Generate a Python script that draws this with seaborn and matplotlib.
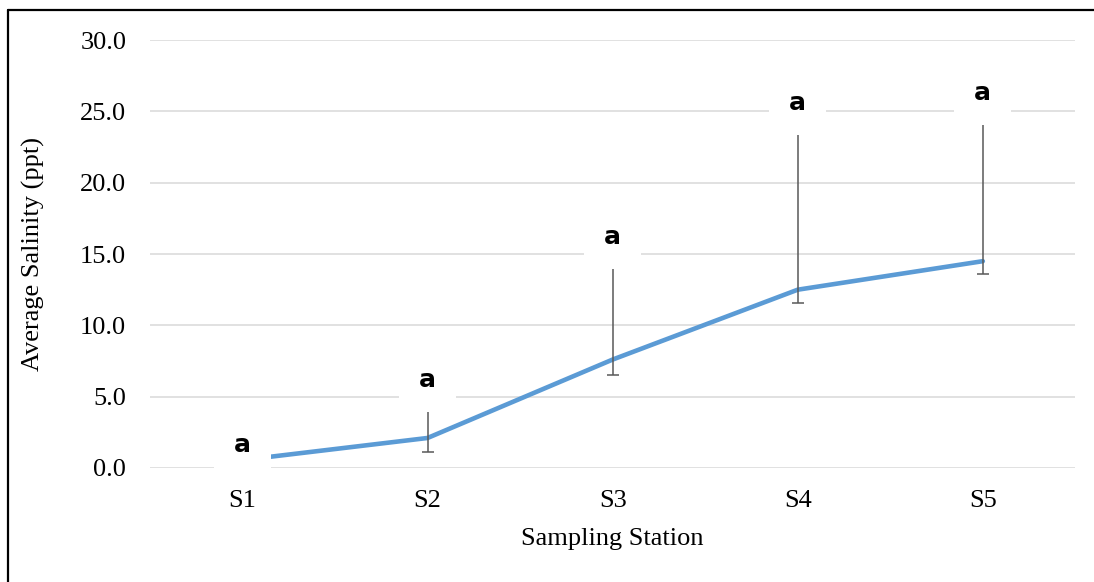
import numpy as np
import pandas as pd
import seaborn as sns
import matplotlib.pyplot as plt
from matplotlib.lines import Line2D

stations = ['S1', 'S2', 'S3', 'S4', 'S5']
salinity = [0.55, 2.1, 7.6, 12.5, 14.5]
err_low = [0.4, 1.0, 1.05, 0.9, 0.9]
err_high = [0.5, 2.4, 6.7, 11.2, 10.0]
letters = ['a', 'a', 'a', 'a', 'a']
letter_y = [1.6, 6.2, 16.2, 25.6, 26.3]

df = pd.DataFrame({'station': stations, 'salinity': salinity})

sns.set_style('white')
plt.rcParams['font.family'] = ['Liberation Serif', 'DejaVu Serif']
plt.rcParams['text.color'] = 'black'
plt.rcParams['axes.labelcolor'] = 'black'
plt.rcParams['xtick.color'] = 'black'
plt.rcParams['ytick.color'] = 'black'

fig = plt.figure(figsize=(10.94, 5.82), dpi=100)
ax = fig.add_axes([0.137, 0.196, 0.846, 0.735])

sns.lineplot(data=df, x='station', y='salinity', color='#5B9BD5',
             linewidth=3.3, ax=ax, zorder=3)
ax.errorbar(np.arange(len(stations)), salinity, yerr=[err_low, err_high],
            fmt='none', ecolor='#595959', elinewidth=1.1, capsize=4.3,
            capthick=1.1, zorder=4)

for i, (t, y) in enumerate(zip(letters, letter_y)):
    ax.text(i, y, t, ha='center', va='center', fontsize=18, fontweight='bold',
            family=['DejaVu Sans'], color='black', zorder=5,
            bbox=dict(boxstyle='square,pad=0.8', fc='white', ec='none'))

ax.set_xlim(-0.5, 4.5)
ax.set_ylim(0, 30)
ax.set_yticks(np.arange(0, 31, 5))
ax.set_yticklabels([f'{v:.1f}' for v in np.arange(0, 31, 5)])
ax.yaxis.grid(True, color='#d9d9d9', linewidth=1.1)
ax.set_axisbelow(True)
for s in ax.spines.values():
    s.set_visible(False)
ax.tick_params(axis='y', length=0, pad=17, labelsize=19)
ax.tick_params(axis='x', length=0, pad=16, labelsize=19)

ax.set_xlabel('Sampling Station', fontsize=19)
ax.set_ylabel('Average Salinity (ppt)', fontsize=19)
ax.xaxis.set_label_coords(0.5, -0.14)
ax.yaxis.set_label_coords(-0.113, 0.5)

# frame lines on the left and top of the figure
fig.add_artist(Line2D([8 / 1094, 8 / 1094], [0, 1 - 10 / 582],
                      color='black', linewidth=1.6, transform=fig.transFigure))
fig.add_artist(Line2D([8 / 1094, 1], [1 - 10 / 582, 1 - 10 / 582],
                      color='black', linewidth=1.6, transform=fig.transFigure))

plt.savefig('out.png', dpi=100)
plt.close()
